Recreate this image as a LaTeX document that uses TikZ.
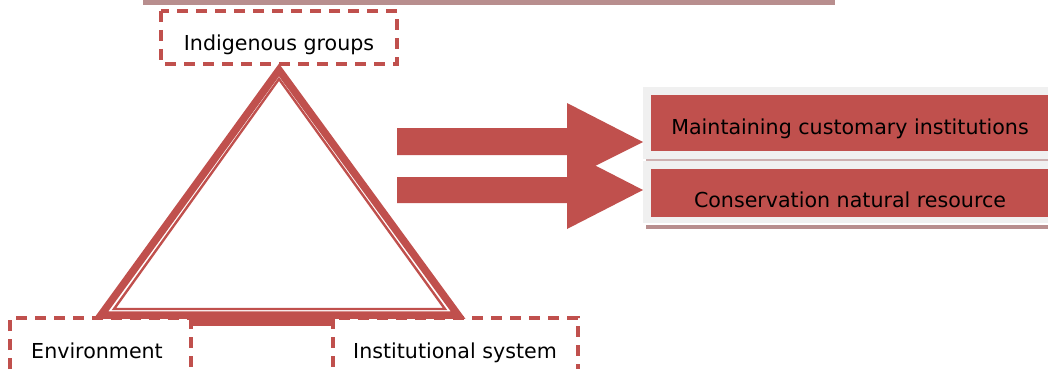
\documentclass[tikz,border=0pt]{standalone}
\usepackage{fontspec}
\setmainfont{DejaVu Sans}
\definecolor{accent}{HTML}{C0504D}
\definecolor{panel}{HTML}{F0F0F0}
\definecolor{rosegray}{RGB}{184,142,142}
\begin{document}
\begin{tikzpicture}[x=1pt,y=-1pt,
  lbl/.style={font=\fontsize{20.6}{24}\selectfont, anchor=base, inner sep=0pt},
  dashbox/.style={draw=accent, line width=3.2pt, dash pattern=on 11pt off 8pt},
  blockarrow/.style={fill=accent, draw=none}]
\useasboundingbox (0,0) rectangle (1048,369);

% title rule along the top edge
\fill[rosegray] (143,0) rectangle (835,5);

% apex label box
\draw[dashbox] (161,11) rectangle (397,64);
\node[lbl] (indig) at (279,51) {Indigenous groups};

% triangle: heavy outline with a thin inner outline
\draw[accent, line width=7.5pt, line join=miter] (279,70) -- (101,315) -- (458,315) -- cycle;
\draw[accent, line width=2.4pt, line join=miter] (279,79) -- (114,309) -- (445,309) -- cycle;

% base label boxes
\draw[dashbox] (10,369) -- (10,318) -- (578,318) -- (578,369);
\draw[dashbox] (191,318) -- (191,369);
\draw[dashbox] (333,318) -- (333,369);
\fill[accent] (193,318) rectangle (334,326);
\node[lbl] (env) at (97,358) {Environment};
\node[lbl] (inst) at (455,358) {Institutional system};

% two block arrows pointing at the outcome boxes
\fill[blockarrow] (397,128) -- (567,128) -- (567,103) -- (643,142) -- (567,180) -- (567,155) -- (397,155) -- cycle;
\fill[blockarrow] (397,177) -- (567,177) -- (567,151) -- (643,190) -- (567,229) -- (567,203) -- (397,203) -- cycle;

% outcome boxes
\fill[panel] (643,87) rectangle (1048,159);
\fill[accent] (651,95) rectangle (1048,151);
\fill[rosegray!70] (646,159) rectangle (1048,161);
\fill[panel] (643,161) rectangle (1048,223);
\fill[accent] (651,169) rectangle (1048,217);
\fill[rosegray] (646,225) rectangle (1048,229);
\node[lbl] (maint) at (850,134) {Maintaining customary institutions};
\node[lbl] (cons) at (850,207) {Conservation natural resource};
\end{tikzpicture}
\end{document}
